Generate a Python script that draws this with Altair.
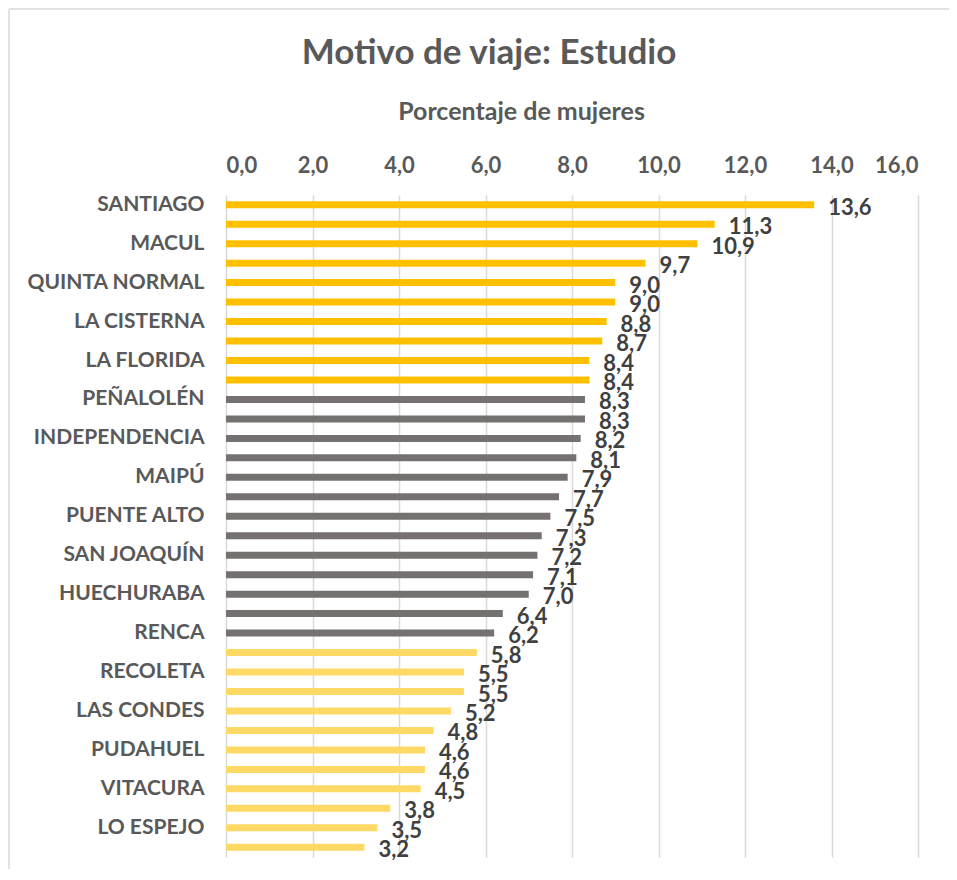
import altair as alt
import pandas as pd

# ---- data ----
comunas = [
    "SANTIAGO", "PROVIDENCIA", "MACUL", "ÑUÑOA", "QUINTA NORMAL", "SAN MIGUEL",
    "LA CISTERNA", "ESTACIÓN CENTRAL", "LA FLORIDA", "LA REINA", "PEÑALOLÉN",
    "CONCHALÍ", "INDEPENDENCIA", "CERRILLOS", "MAIPÚ", "LO PRADO", "PUENTE ALTO",
    "SAN RAMÓN", "SAN JOAQUÍN", "LA GRANJA", "HUECHURABA", "EL BOSQUE", "RENCA",
    "PEDRO AGUIRRE CERDA", "RECOLETA", "QUILICURA", "LAS CONDES", "SAN BERNARDO",
    "PUDAHUEL", "CERRO NAVIA", "VITACURA", "LA PINTANA", "LO ESPEJO", "LO BARNECHEA",
]
valores = [
    13.6, 11.3, 10.9, 9.7, 9.0, 9.0, 8.8, 8.7, 8.4, 8.4,
    8.3, 8.3, 8.2, 8.1, 7.9, 7.7, 7.5, 7.3, 7.2, 7.1, 7.0, 6.4, 6.2,
    5.8, 5.5, 5.5, 5.2, 4.8, 4.6, 4.6, 4.5, 3.8, 3.5, 3.2,
]
grupos = ["alto"] * 10 + ["medio"] * 13 + ["bajo"] * 11
etiquetas_visibles = comunas[0::2]
ticks_x = [0, 2, 4, 6, 8, 10, 12, 14, 16]

df = pd.DataFrame({"comuna": comunas, "valor": valores, "grupo": grupos})

FONT = "Lato"
GRAY = "#595959"
DARK = "#404040"

y_enc = alt.Y(
    "comuna:N",
    sort=comunas,
    title=None,
    axis=alt.Axis(
        values=etiquetas_visibles,
        labelFont=FONT, labelFontSize=21, labelFontWeight="bold",
        labelColor=GRAY, ticks=False, domain=False, labelPadding=22,
        labelLimit=300,
    ),
)

x_scale = alt.Scale(domain=[0, 16], nice=False)

bars = alt.Chart(df).mark_bar(size=7).encode(
    x=alt.X(
        "valor:Q",
        scale=x_scale,
        title="Porcentaje de mujeres",
        axis=alt.Axis(
            orient="top", values=ticks_x,
            labelExpr="replace(format(datum.value, '.1f'), '.', ',')",
            labelFont=FONT, labelFontSize=22, labelFontWeight="bold",
            labelColor=GRAY, ticks=False, domain=False, labelPadding=18,
            grid=True, gridColor="#D9D9D9", gridWidth=1.5,
            titleFont=FONT, titleFontSize=25, titleFontWeight="bold",
            titleColor=GRAY, titlePadding=30, titleX=295,
        ),
    ),
    y=y_enc,
    color=alt.Color(
        "grupo:N",
        scale=alt.Scale(domain=["alto", "medio", "bajo"],
                        range=["#FFC000", "#767171", "#FFD966"]),
        legend=None,
    ),
)

labels = alt.Chart(df).transform_calculate(
    txt="replace(format(datum.valor, '.1f'), '.', ',')"
).mark_text(
    align="left", baseline="middle", dx=14, dy=3,
    font=FONT, fontSize=22, fontWeight="bold", color=DARK,
).encode(
    x=alt.X("valor:Q", scale=x_scale),
    y=alt.Y("comuna:N", sort=comunas),
    text="txt:N",
)

# chart-area border (only the left and top edges are visible in the reference)
borde_izq = alt.Chart(pd.DataFrame({"k": [0]})).mark_rule(
    color="#D9D9D9", strokeWidth=1.5
).encode(x=alt.value(-217), y=alt.value(-186), y2=alt.value(900))
borde_sup = alt.Chart(pd.DataFrame({"k": [0]})).mark_rule(
    color="#D9D9D9", strokeWidth=1.5
).encode(x=alt.value(-217), x2=alt.value(900), y=alt.value(-186))

chart = alt.layer(borde_izq, borde_sup, bars, labels).properties(
    width=692,
    height=662,
    autosize=alt.AutoSizeParams(type="none"),
    padding={"left": 218, "top": 187, "right": 31, "bottom": 12},
    title=alt.TitleParams(
        "Motivo de viaje: Estudio",
        font=FONT, fontSize=35, fontWeight="bold", color=GRAY,
        anchor="middle", dx=-83, offset=0, dy=63,
    ),
).configure_view(stroke=None)

chart.save("out.html", embed_options={"renderer": "svg", "actions": False})
